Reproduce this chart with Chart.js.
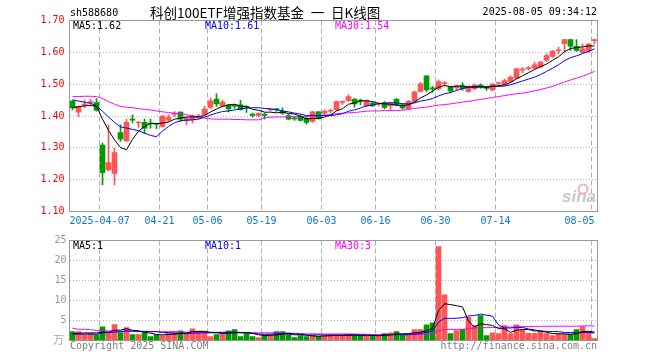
<!DOCTYPE html>
<html>
<head>
<meta charset="utf-8">
<script src="https://cdn.jsdelivr.net/npm/chart.js@4.4.1/dist/chart.umd.min.js"></script>
<style>
  html, body { margin: 0; padding: 0; background: #fff; }
  #wrap { position: relative; width: 660px; height: 360px; }
  #kline { position: absolute; left: 0; top: 0; }
  #vol { position: absolute; left: 0; top: 230px; }
</style>
</head>
<body>
<div id="wrap">
  <canvas id="kline" width="660" height="232" style="width:660px;height:232px"></canvas>
  <canvas id="vol" width="660" height="130" style="width:660px;height:130px"></canvas>
</div>
<script>
// trading days shown on the chart
const dates = ['03-28','03-31','04-01','04-02','04-03','04-07','04-08','04-09','04-10','04-11',
  '04-14','04-15','04-16','04-17','04-18','04-21','04-22','04-23','04-24','04-25',
  '04-28','04-29','04-30','05-06','05-07','05-08','05-09','05-12','05-13','05-14',
  '05-15','05-16','05-19','05-20','05-21','05-22','05-23','05-26','05-27','05-28',
  '05-29','05-30','06-03','06-04','06-05','06-06','06-09','06-10','06-11','06-12',
  '06-13','06-16','06-17','06-18','06-19','06-20','06-23','06-24','06-25','06-26',
  '06-27','06-30','07-01','07-02','07-03','07-04','07-07','07-08','07-09','07-10',
  '07-11','07-14','07-15','07-16','07-17','07-18','07-21','07-22','07-23','07-24',
  '07-25','07-28','07-29','07-30','07-31','08-01','08-04','08-05'];

const tickDates = ['04-07','04-21','05-06','05-19','06-03','06-16','06-30','07-14','08-05'];
const tickLabels = ['2025-04-07','04-21','05-06','05-19','06-03','06-16','06-30','07-14','08-05'];

const opens = [1.447,1.412,1.434,1.442,1.442,1.309,1.231,1.220,1.348,1.322,
  1.389,1.378,1.380,1.376,1.376,1.367,1.387,1.405,1.412,1.385,
  1.388,1.394,1.404,1.427,1.453,1.432,1.434,1.433,1.435,1.430,
  1.404,1.402,1.404,1.419,1.421,1.415,1.401,1.393,1.396,1.393,
  1.383,1.413,1.409,1.415,1.420,1.443,1.448,1.453,1.449,1.432,
  1.440,1.436,1.442,1.432,1.453,1.435,1.423,1.446,1.477,1.526,
  1.487,1.485,1.502,1.491,1.488,1.495,1.477,1.486,1.497,1.489,
  1.482,1.502,1.500,1.508,1.519,1.544,1.549,1.550,1.554,1.575,
  1.587,1.605,1.627,1.640,1.619,1.600,1.603,1.637];
const highs = [1.449,1.432,1.451,1.452,1.455,1.315,1.372,1.299,1.372,1.390,
  1.404,1.383,1.390,1.390,1.378,1.402,1.404,1.414,1.413,1.396,
  1.403,1.405,1.430,1.456,1.470,1.449,1.436,1.436,1.449,1.432,
  1.409,1.410,1.409,1.424,1.424,1.426,1.405,1.398,1.404,1.396,
  1.415,1.415,1.420,1.422,1.447,1.447,1.467,1.455,1.453,1.451,
  1.445,1.441,1.445,1.442,1.455,1.437,1.449,1.478,1.506,1.527,
  1.493,1.514,1.508,1.493,1.497,1.505,1.495,1.501,1.501,1.493,
  1.503,1.505,1.516,1.526,1.550,1.553,1.555,1.569,1.572,1.595,
  1.606,1.616,1.641,1.642,1.640,1.627,1.628,1.641];
const lows = [1.419,1.399,1.426,1.434,1.415,1.184,1.228,1.184,1.320,1.320,
  1.378,1.364,1.345,1.362,1.360,1.365,1.383,1.398,1.383,1.372,
  1.378,1.392,1.402,1.424,1.430,1.430,1.413,1.424,1.418,1.411,
  1.396,1.398,1.390,1.416,1.414,1.405,1.388,1.386,1.384,1.374,
  1.380,1.390,1.405,1.409,1.418,1.436,1.446,1.428,1.435,1.430,
  1.430,1.432,1.422,1.420,1.432,1.421,1.420,1.444,1.475,1.477,
  1.474,1.482,1.493,1.472,1.480,1.480,1.474,1.482,1.487,1.480,
  1.478,1.494,1.497,1.505,1.517,1.535,1.544,1.548,1.551,1.571,
  1.584,1.595,1.601,1.606,1.603,1.598,1.600,1.627];
const closes = [1.425,1.430,1.437,1.444,1.418,1.222,1.254,1.285,1.327,1.380,
  1.387,1.381,1.362,1.375,1.374,1.400,1.396,1.407,1.390,1.393,
  1.400,1.400,1.422,1.448,1.438,1.444,1.422,1.431,1.420,1.428,
  1.402,1.408,1.402,1.421,1.419,1.409,1.390,1.391,1.386,1.380,
  1.413,1.392,1.415,1.417,1.445,1.445,1.461,1.438,1.447,1.448,
  1.432,1.437,1.427,1.440,1.435,1.425,1.446,1.476,1.501,1.482,
  1.485,1.508,1.504,1.479,1.494,1.486,1.492,1.497,1.490,1.487,
  1.500,1.503,1.511,1.522,1.548,1.546,1.551,1.561,1.569,1.590,
  1.603,1.607,1.640,1.619,1.606,1.611,1.626,1.640];

const ma5 = [1.426,1.429,1.432,1.433,1.431,1.390,1.355,1.325,1.301,1.294,
  1.327,1.352,1.367,1.377,1.376,1.378,1.381,1.390,1.393,1.397,
  1.397,1.398,1.401,1.413,1.422,1.430,1.435,1.437,1.431,1.429,
  1.421,1.418,1.412,1.412,1.410,1.412,1.408,1.406,1.399,1.391,
  1.392,1.392,1.397,1.403,1.416,1.423,1.437,1.441,1.447,1.448,
  1.445,1.440,1.438,1.437,1.434,1.433,1.435,1.444,1.457,1.466,
  1.478,1.490,1.496,1.492,1.494,1.494,1.491,1.490,1.492,1.490,
  1.493,1.495,1.498,1.505,1.517,1.526,1.536,1.546,1.555,1.563,
  1.575,1.586,1.602,1.612,1.615,1.617,1.620,1.620];
const ma10 = [1.451,1.447,1.443,1.440,1.432,1.415,1.397,1.380,1.366,1.362,
  1.358,1.354,1.346,1.339,1.335,1.353,1.367,1.379,1.385,1.387,
  1.388,1.390,1.396,1.403,1.409,1.414,1.416,1.419,1.422,1.425,
  1.426,1.426,1.424,1.422,1.420,1.416,1.413,1.409,1.406,1.401,
  1.402,1.400,1.402,1.401,1.404,1.407,1.415,1.419,1.425,1.432,
  1.434,1.439,1.440,1.442,1.441,1.439,1.438,1.441,1.447,1.450,
  1.455,1.463,1.470,1.474,1.480,1.486,1.491,1.493,1.492,1.492,
  1.494,1.493,1.494,1.498,1.504,1.510,1.516,1.522,1.530,1.540,
  1.550,1.561,1.574,1.583,1.589,1.596,1.603,1.611];
const ma30 = [1.461,1.461,1.462,1.462,1.461,1.455,1.445,1.437,1.430,1.428,
  1.426,1.423,1.421,1.419,1.416,1.413,1.411,1.409,1.407,1.404,
  1.400,1.398,1.394,1.391,1.390,1.390,1.390,1.389,1.389,1.388,
  1.388,1.388,1.394,1.396,1.397,1.397,1.398,1.398,1.398,1.399,
  1.400,1.401,1.403,1.404,1.407,1.409,1.410,1.411,1.413,1.415,
  1.416,1.416,1.417,1.417,1.417,1.418,1.421,1.424,1.426,1.428,
  1.431,1.434,1.436,1.438,1.441,1.444,1.446,1.449,1.452,1.455,
  1.458,1.461,1.464,1.467,1.470,1.472,1.475,1.479,1.483,1.488,
  1.493,1.500,1.507,1.513,1.519,1.525,1.532,1.540];

// volume, in 万
const volumes = [2.25,2.25,1.6,1.8,1.5,3.4,2.1,4.0,2.0,3.2,
  1.5,1.5,2.0,1.0,1.4,1.2,1.9,2.2,2.4,1.8,
  2.9,2.2,2.2,1.0,1.5,2.0,2.4,2.7,1.0,1.8,
  1.0,0.75,1.5,1.5,2.2,2.2,1.5,0.75,1.2,1.0,
  1.3,1.0,1.2,1.5,1.5,1.5,1.5,1.2,1.2,1.2,
  1.2,1.2,1.7,1.9,2.2,1.4,1.4,2.7,2.7,3.9,
  4.4,23.5,11.4,1.7,2.5,2.8,5.8,3.8,6.2,1.2,
  1.9,1.7,3.7,1.7,3.9,2.7,1.8,1.8,2.2,1.7,
  1.2,1.6,1.6,1.6,2.7,3.5,2.2,0.5];
const volMa5 = [1.7,1.8,1.9,1.9,1.88,2.11,2.08,2.56,2.60,2.94,
  2.56,2.44,2.04,1.84,1.48,1.42,1.50,1.54,1.82,1.90,
  2.24,2.30,2.30,2.02,1.96,1.78,1.82,1.92,1.92,1.98,
  1.78,1.45,1.21,1.31,1.39,1.63,1.78,1.63,1.57,1.33,
  1.15,1.05,1.14,1.20,1.30,1.34,1.44,1.44,1.38,1.32,
  1.26,1.20,1.30,1.44,1.64,1.68,1.72,1.92,2.08,2.42,
  3.02,7.44,9.18,8.98,8.70,8.38,4.84,3.32,4.22,3.96,
  3.78,2.96,2.94,2.04,2.58,2.74,2.76,2.38,2.48,2.04,
  1.74,1.70,1.66,1.54,1.74,2.20,2.32,2.10];
const volMa10 = [1.6,1.6,1.6,1.6,1.6,1.9,2.0,2.1,2.2,2.41,
  2.34,2.26,2.30,2.22,2.21,1.99,1.97,1.79,1.83,1.69,
  1.83,1.90,1.92,1.92,1.93,2.01,2.06,2.11,1.97,1.97,
  1.78,1.64,1.57,1.62,1.69,1.71,1.62,1.42,1.44,1.36,
  1.39,1.42,1.39,1.39,1.32,1.25,1.25,1.29,1.29,1.31,
  1.30,1.32,1.37,1.41,1.48,1.47,1.46,1.61,1.76,2.03,
  2.35,4.58,5.55,5.53,5.56,5.70,6.14,6.25,6.60,6.33,
  6.08,3.90,3.13,3.13,3.27,3.26,2.86,2.66,2.26,2.31,
  2.24,2.23,2.02,2.01,1.89,1.97,2.01,1.88];
const volMa30 = [3.1,2.8,2.8,2.7,2.5,2.45,2.4,2.35,2.3,2.3,
  2.3,2.25,2.25,2.2,2.2,2.2,2.2,2.2,2.15,2.1,
  2.1,2.1,2.05,2.05,2.05,2.05,2.05,2.05,2.03,2.02,
  1.98,1.93,1.93,1.92,1.94,1.90,1.88,1.77,1.75,1.67,
  1.67,1.65,1.62,1.64,1.64,1.65,1.64,1.61,1.57,1.55,
  1.49,1.46,1.44,1.47,1.49,1.47,1.44,1.44,1.50,1.57,
  1.68,2.44,2.77,2.78,2.79,2.81,2.95,3.05,3.22,3.22,
  3.24,3.27,3.35,3.36,3.44,3.48,3.49,3.51,3.54,3.56,
  3.56,3.57,3.57,3.56,3.57,3.64,3.67,3.60];

const RED = '#ff5555';
const GREEN = '#009c00';
const MONO = '"DejaVu Sans Mono", monospace';
const CJK = '"Noto Sans CJK SC", sans-serif';

const candleColors = closes.map((c, i) => c >= opens[i] ? RED : GREEN);
const tickIdx = tickDates.map(d => dates.indexOf(d));

function dateAxis(height) {
    return {
        type: 'category',
        offset: true,
        grid: {
            offset: true,
            drawTicks: false,
            color: c => tickIdx.includes(c.index) ? '#b0b0b0' : 'rgba(0,0,0,0)'
        },
        border: { display: false, dash: [5, 3] },
        ticks: { display: false, autoSkip: false },
        afterFit: s => { s.height = height; }
    };
}

function lineSet(data, color) {
    return {
        type: 'line', data: data, borderColor: color, borderWidth: 1,
        pointRadius: 0, fill: false, tension: 0, order: 0
    };
}

// box around the plot area
const frame = {
    id: 'frame',
    beforeDatasetsDraw(chart) {
        const a = chart.chartArea, ctx = chart.ctx;
        ctx.save();
        ctx.strokeStyle = '#999';
        ctx.lineWidth = 1;
        ctx.strokeRect(a.left, a.top, a.right - a.left, a.bottom - a.top);
        ctx.restore();
    }
};

const klineText = {
    id: 'klineText',
    afterDraw(chart) {
        const ctx = chart.ctx, a = chart.chartArea;
        const xs = chart.scales.x;
        ctx.save();
        ctx.textBaseline = 'middle';
        ctx.font = '10px ' + MONO;
        ctx.fillStyle = '#000';
        ctx.textAlign = 'left';
        ctx.fillText('sh588680', 70, 13);
        ctx.textAlign = 'right';
        ctx.fillText('2025-08-05 09:34:12', 597, 12.5);

        ctx.font = '13.5px ' + CJK;
        ctx.textAlign = 'left';
        ctx.fillText('科创100ETF增强指数基金\u2002一\u2002日K线图', 150, 12.5);

        ctx.font = '10px ' + MONO;
        ctx.fillStyle = '#000'; ctx.fillText('MA5:1.62', 73, 26.5);
        ctx.fillStyle = '#0000ff'; ctx.fillText('MA10:1.61', 205, 26.5);
        ctx.fillStyle = '#ff00ff'; ctx.fillText('MA30:1.54', 335, 26.5);

        // date labels under the grid lines
        const catW = xs.getPixelForValue(1) - xs.getPixelForValue(0);
        ctx.fillStyle = '#0a78c8';
        ctx.textAlign = 'center';
        tickIdx.forEach((idx, k) => {
            const label = tickLabels[k];
            const w = ctx.measureText(label).width;
            let x = xs.getPixelForValue(idx) - catW / 2;
            x = Math.min(x, a.right - 3 - w / 2);
            x = Math.max(x, a.left + w / 2);
            ctx.fillText(label, x, 221.5);
        });

        // sina watermark
        ctx.fillStyle = '#c8c8c8';
        ctx.font = 'italic bold 17px "Liberation Sans", sans-serif';
        ctx.textAlign = 'right';
        ctx.fillText('sina', 596, 197);
        ctx.strokeStyle = '#f2b4b4';
        ctx.lineWidth = 2;
        ctx.beginPath();
        ctx.arc(583, 189, 4.5, 0, Math.PI * 2);
        ctx.stroke();
        ctx.restore();
    }
};

const volText = {
    id: 'volText',
    afterDraw(chart) {
        const ctx = chart.ctx;
        ctx.save();
        ctx.textBaseline = 'middle';
        ctx.font = '10px ' + MONO;
        ctx.textAlign = 'left';
        ctx.fillStyle = '#000'; ctx.fillText('MA5:1', 73, 16.5);
        ctx.fillStyle = '#0000ff'; ctx.fillText('MA10:1', 205, 16.5);
        ctx.fillStyle = '#ff00ff'; ctx.fillText('MA30:3', 335, 16.5);

        ctx.fillStyle = '#808080';
        ctx.fillText('Copyright 2025 SINA.COM', 70, 116);
        ctx.textAlign = 'right';
        ctx.fillText('http://finance.sina.com.cn', 597, 116);

        ctx.fillStyle = '#aaa';
        ctx.font = '11px ' + CJK;
        ctx.fillText('万', 64, 110);
        ctx.restore();
    }
};

new Chart(document.getElementById('kline'), {
    type: 'bar',
    data: {
        labels: dates,
        datasets: [
            lineSet(ma5, '#000000'),
            lineSet(ma10, '#0000ff'),
            lineSet(ma30, '#ff00ff'),
            {
                data: opens.map((o, i) => [o, closes[i]]),
                backgroundColor: candleColors,
                barThickness: 5, grouped: false, minBarLength: 1, order: 1
            },
            {
                data: lows.map((l, i) => [l, highs[i]]),
                backgroundColor: candleColors,
                barThickness: 1, grouped: false, order: 2
            }
        ]
    },
    options: {
        responsive: false,
        devicePixelRatio: 1,
        animation: false,
        events: [],
        layout: { padding: { left: 0, right: 62.5, top: 20.5, bottom: 0 } },
        plugins: { legend: { display: false }, tooltip: { enabled: false } },
        scales: {
            x: dateAxis(20.5),
            y: {
                min: 1.1, max: 1.7,
                afterFit: s => { s.width = 69.5; },
                ticks: {
                    stepSize: 0.1,
                    callback: v => Number(v).toFixed(2),
                    color: '#ff0000',
                    font: { family: MONO, size: 10 },
                    padding: 5
                },
                grid: {
                    drawTicks: false,
                    color: c => (c.tick && c.tick.value > 1.105 && c.tick.value < 1.695) ? '#b4b4b4' : 'rgba(0,0,0,0)'
                },
                border: { display: false, dash: [1, 2] }
            }
        }
    },
    plugins: [frame, klineText]
});

new Chart(document.getElementById('vol'), {
    type: 'bar',
    data: {
        labels: dates,
        datasets: [
            lineSet(volMa5, '#000000'),
            lineSet(volMa10, '#0000ff'),
            lineSet(volMa30, '#ff00ff'),
            {
                data: volumes,
                backgroundColor: candleColors,
                barThickness: 5, grouped: false, order: 1
            }
        ]
    },
    options: {
        responsive: false,
        devicePixelRatio: 1,
        animation: false,
        events: [],
        layout: { padding: { left: 0, right: 62.5, top: 10.5, bottom: 0 } },
        plugins: { legend: { display: false }, tooltip: { enabled: false } },
        scales: {
            x: dateAxis(19.5),
            y: {
                min: 0, max: 25,
                afterFit: s => { s.width = 69.5; },
                ticks: {
                    stepSize: 5,
                    callback: v => v === 0 ? '' : v,
                    color: '#999',
                    font: { family: MONO, size: 10 },
                    padding: 3
                },
                grid: {
                    drawTicks: false,
                    color: c => (c.tick && c.tick.value > 0 && c.tick.value < 25) ? '#b4b4b4' : 'rgba(0,0,0,0)'
                },
                border: { display: false, dash: [1, 2] }
            }
        }
    },
    plugins: [frame, volText]
});
</script>
</body>
</html>
